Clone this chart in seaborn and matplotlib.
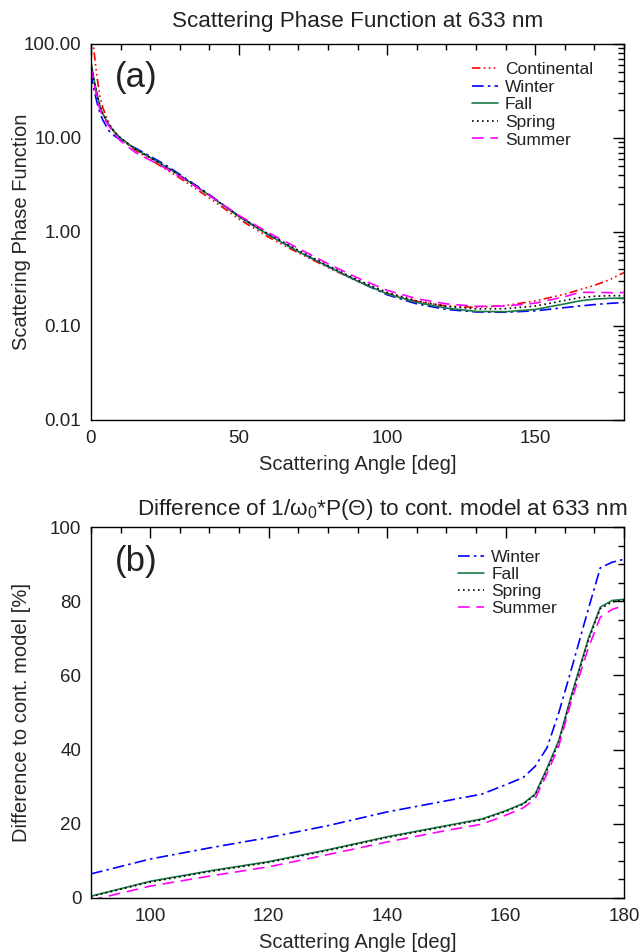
import numpy as np
import pandas as pd
import matplotlib
matplotlib.use("Agg")
import matplotlib.pyplot as plt
from matplotlib.ticker import FixedLocator, MultipleLocator, FuncFormatter, LogLocator, NullFormatter
import seaborn as sns

# ---------------- data: panel (a) ----------------
angles_a = [0, 0.5, 1, 2, 3, 4, 6, 8, 10, 15, 20, 25, 30, 40, 50, 60, 70, 80, 90,
            100, 110, 120, 130, 140, 150, 160, 165, 170, 175, 180]
continental = [300, 140, 85, 45, 28, 21, 14.5, 11.5, 9.8, 7.4, 5.9, 4.7, 3.75, 2.3, 1.37, 0.88, 0.60, 0.42, 0.30,
               0.222, 0.183, 0.163, 0.158, 0.165, 0.185, 0.218, 0.243, 0.27, 0.31, 0.37]
winter = [50, 40, 33, 24, 18.5, 15.5, 12, 10.5, 9.5, 7.8, 6.4, 5.2, 4.1, 2.5, 1.47, 0.93, 0.62, 0.43, 0.30,
          0.215, 0.172, 0.150, 0.141, 0.140, 0.145, 0.157, 0.163, 0.169, 0.174, 0.178]
fall = [65, 52, 42, 30, 22, 18, 14, 11.5, 10, 7.6, 6.2, 5.0, 4.0, 2.45, 1.45, 0.93, 0.62, 0.43, 0.30,
        0.220, 0.178, 0.155, 0.143, 0.142, 0.150, 0.172, 0.185, 0.193, 0.197, 0.198]
spring = [62, 50, 41, 29, 22, 18, 14, 11.5, 10, 7.6, 6.2, 5.0, 4.0, 2.45, 1.47, 0.95, 0.64, 0.44, 0.31,
          0.228, 0.185, 0.162, 0.152, 0.153, 0.163, 0.187, 0.200, 0.207, 0.210, 0.210]
summer = [57, 46, 38, 27, 20, 17, 13.5, 11, 9.3, 7.0, 5.8, 4.8, 3.9, 2.45, 1.50, 0.98, 0.67, 0.46, 0.325,
          0.240, 0.195, 0.172, 0.162, 0.163, 0.175, 0.205, 0.228, 0.228, 0.226, 0.227]

# ---------------- data: panel (b) ----------------
angles_b = [90, 100, 110, 120, 130, 140, 150, 156, 160, 163, 165, 167, 169, 171, 174, 176, 178, 180]
diff_winter = [6.5, 10.5, 13.5, 16.3, 19.5, 23.2, 26.2, 28.0, 30.5, 32.5, 35.5, 40.5, 50, 61, 78, 89, 90.5, 91.3]
diff_fall = [0.5, 4.5, 7.3, 9.8, 13.0, 16.5, 19.5, 21.3, 23.5, 25.5, 28.0, 35.0, 42.5, 54.0, 70.0, 78.4, 80.2, 80.5]
diff_spring = [0.4, 4.3, 7.1, 9.6, 12.8, 16.3, 19.3, 21.1, 23.3, 25.3, 27.8, 34.5, 42.0, 53.5, 69.5, 78.0, 79.8, 80.3]
diff_summer = [-0.6, 3.2, 5.9, 8.4, 11.7, 15.1, 18.2, 19.9, 22.3, 24.3, 26.8, 33.5, 41.0, 52.5, 67.5, 75.7, 77.8, 78.8]

ylabels_a = ["0.01", "0.10", "1.00", "10.00", "100.00"]

# ---------------- style ----------------
sns.set_style("white")
plt.rcParams["font.family"] = ["Liberation Sans", "DejaVu Sans"]
plt.rcParams["mathtext.fontset"] = "custom"
plt.rcParams["mathtext.rm"] = "Liberation Sans"
plt.rcParams["mathtext.it"] = "Liberation Sans:italic"
plt.rcParams["text.color"] = "#222222"

RED = "#ff0000"
BLUE = "#0000ff"
GREEN = "#1a7a44"
BLACK = "#000000"
MAGENTA = "#ff00ff"

styles = {
    "Continental": (RED, (0, (5, 2, 1, 2, 1, 2, 1, 2))),
    "Winter": (BLUE, (0, (7, 2.5, 1.5, 2.5))),
    "Fall": (GREEN, "-"),
    "Spring": (BLACK, (0, (1, 2))),
    "Summer": (MAGENTA, (0, (7, 4))),
}

fig = plt.figure(figsize=(6.4, 9.52), dpi=100)
W, H = 640, 952
def rect(x0, y0, x1, y1):
    return [x0 / W, 1 - y1 / H, (x1 - x0) / W, (y1 - y0) / H]

ax1 = fig.add_axes(rect(91, 44, 624, 420))
ax2 = fig.add_axes(rect(91, 527, 624, 898))

TICK_FS = 13.5
LABEL_FS = 14.5
TITLE_FS = 16.2
LEG_FS = 12.5
LW = 1.2

def frame(ax):
    for s in ax.spines.values():
        s.set_color("black")
        s.set_linewidth(1.0)
    ax.tick_params(which="both", direction="in", top=True, right=True,
                   colors="black", labelcolor="#222222", labelsize=TICK_FS)
    ax.tick_params(which="major", length=8, width=1.0, pad=7)
    ax.tick_params(which="minor", length=4, width=1.0)

# ---------------- panel (a) ----------------
series_a = {"Continental": continental, "Winter": winter, "Fall": fall,
            "Spring": spring, "Summer": summer}
for name, vals in series_a.items():
    c, ls = styles[name]
    df = pd.DataFrame({"angle": angles_a, "p": vals})
    sns.lineplot(data=df, x="angle", y="p", ax=ax1, color=c, linestyle=ls,
                 linewidth=LW, label=name, estimator=None, sort=False)

ax1.set_yscale("log")
ax1.set_xlim(0, 180)
ax1.set_ylim(0.01, 100)
ax1.xaxis.set_major_locator(FixedLocator([0, 50, 100, 150]))
ax1.xaxis.set_minor_locator(MultipleLocator(10))
ax1.yaxis.set_major_locator(FixedLocator([0.01, 0.1, 1, 10, 100]))
ax1.yaxis.set_major_formatter(FuncFormatter(lambda v, p: ylabels_a[int(round(np.log10(v))) + 2]))
ax1.yaxis.set_minor_locator(LogLocator(base=10, subs=np.arange(2, 10)))
ax1.yaxis.set_minor_formatter(NullFormatter())
frame(ax1)
ax1.set_xlabel("Scattering Angle [deg]", fontsize=LABEL_FS, labelpad=6)
ax1.set_ylabel("Scattering Phase Function", fontsize=LABEL_FS)
ax1.yaxis.set_label_coords(-0.112, 0.5)
ax1.set_title("Scattering Phase Function at 633 nm", fontsize=TITLE_FS, pad=12)
ax1.text(0.045, 0.91, "(a)", transform=ax1.transAxes, fontsize=25, va="center", ha="left")
ax1.legend(loc="upper left", bbox_to_anchor=(0.715, 0.952), frameon=False,
           fontsize=LEG_FS, handlelength=1.5, handletextpad=0.4, labelspacing=0.14,
           borderaxespad=0, borderpad=0)

# ---------------- panel (b) ----------------
series_b = {"Winter": diff_winter, "Fall": diff_fall, "Spring": diff_spring, "Summer": diff_summer}
for name, vals in series_b.items():
    c, ls = styles[name]
    df = pd.DataFrame({"angle": angles_b, "d": vals})
    sns.lineplot(data=df, x="angle", y="d", ax=ax2, color=c, linestyle=ls,
                 linewidth=LW, label=name, estimator=None, sort=False)

ax2.set_xlim(90, 180)
ax2.set_ylim(0, 100)
ax2.xaxis.set_major_locator(MultipleLocator(20))
ax2.xaxis.set_minor_locator(MultipleLocator(5))
ax2.yaxis.set_major_locator(MultipleLocator(20))
ax2.yaxis.set_minor_locator(MultipleLocator(5))
frame(ax2)
ax2.set_xlabel("Scattering Angle [deg]", fontsize=LABEL_FS, labelpad=6)
ax2.set_ylabel("Difference to cont. model [%]", fontsize=LABEL_FS)
ax2.yaxis.set_label_coords(-0.112, 0.5)
ax2.set_title("Difference of 1/ω$_0$*P(Θ) to cont. model at 633 nm", fontsize=TITLE_FS, pad=9, x=0.546)
ax2.text(0.045, 0.906, "(b)", transform=ax2.transAxes, fontsize=25, va="center", ha="left")
ax2.legend(loc="upper left", bbox_to_anchor=(0.689, 0.938), frameon=False,
           fontsize=LEG_FS, handlelength=1.5, handletextpad=0.4, labelspacing=0.1,
           borderaxespad=0, borderpad=0)

fig.savefig("out.png", dpi=100)
